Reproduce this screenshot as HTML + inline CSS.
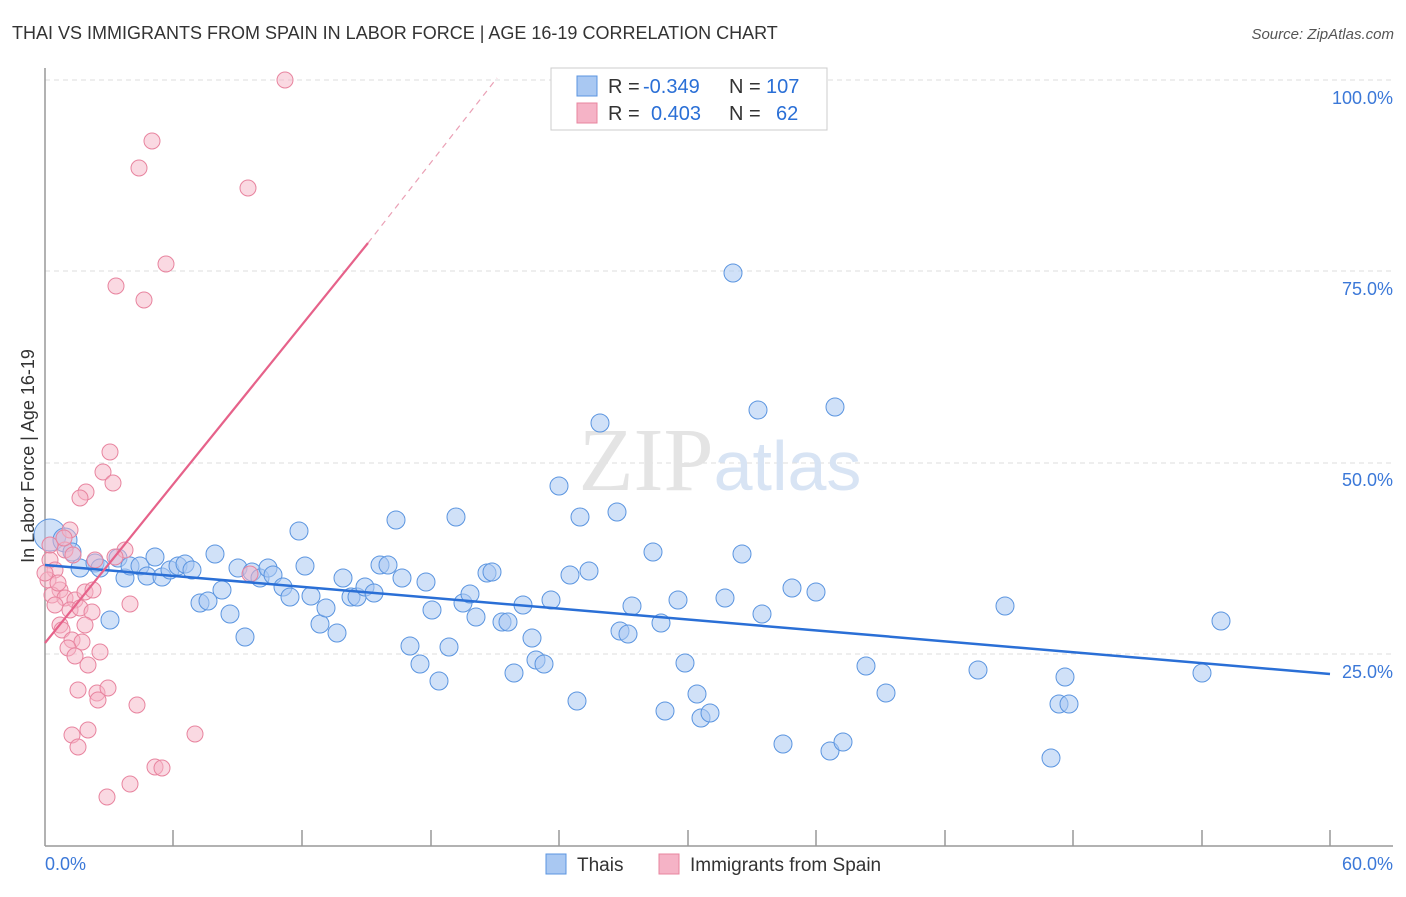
<!DOCTYPE html>
<html><head><meta charset="utf-8"><style>
body{margin:0;background:#fff;font-family:"Liberation Sans",sans-serif;}
</style></head><body>
<svg width="1406" height="892" xmlns="http://www.w3.org/2000/svg" font-family="Liberation Sans, sans-serif">
<text x="12" y="39" font-size="18" fill="#333">THAI VS IMMIGRANTS FROM SPAIN IN LABOR FORCE | AGE 16-19 CORRELATION CHART</text>
<text x="1394" y="39" font-size="15" fill="#555" font-style="italic" text-anchor="end">Source: ZipAtlas.com</text>
<g stroke="#ddd" stroke-dasharray="5,4" stroke-width="1">
<line x1="45" y1="80" x2="1393" y2="80"/><line x1="45" y1="271" x2="1393" y2="271"/>
<line x1="45" y1="463" x2="1393" y2="463"/><line x1="45" y1="654" x2="1393" y2="654"/>
</g>
<line x1="45" y1="68" x2="45" y2="846" stroke="#999" stroke-width="1.5"/>
<line x1="45" y1="846" x2="1393" y2="846" stroke="#999" stroke-width="1.5"/>
<g stroke="#999" stroke-width="1.5">
<line x1="173" y1="830" x2="173" y2="846"/><line x1="302" y1="830" x2="302" y2="846"/><line x1="431" y1="830" x2="431" y2="846"/><line x1="559" y1="830" x2="559" y2="846"/><line x1="688" y1="830" x2="688" y2="846"/><line x1="816" y1="830" x2="816" y2="846"/><line x1="945" y1="830" x2="945" y2="846"/><line x1="1073" y1="830" x2="1073" y2="846"/><line x1="1202" y1="830" x2="1202" y2="846"/><line x1="1330" y1="830" x2="1330" y2="846"/>
</g>
<g font-size="18" fill="#3b78d8" text-anchor="end">
<text x="1393" y="104">100.0%</text><text x="1393" y="295">75.0%</text><text x="1393" y="486">50.0%</text><text x="1393" y="678">25.0%</text>
<text x="1393" y="870">60.0%</text></g>
<text x="45" y="870" font-size="18" fill="#3b78d8">0.0%</text>
<text transform="translate(34,456) rotate(-90)" font-size="18" fill="#333" text-anchor="middle">In Labor Force | Age 16-19</text>
<text x="720" y="490" font-size="90" fill="#e4e4e4" text-anchor="middle" font-family="Liberation Serif, serif">ZIP<tspan fill="#d8e4f4" font-family="Liberation Sans, sans-serif" font-size="70">atlas</tspan></text>
<g fill="#a9c8f2" fill-opacity="0.55" stroke="#5b95e0" stroke-width="1">
<circle cx="50" cy="535" r="16"/><circle cx="65" cy="540" r="12"/>
<g id="b">
<circle cx="72" cy="552" r="9"/><circle cx="80" cy="568" r="9"/><circle cx="95" cy="563" r="9"/><circle cx="100" cy="568" r="9"/><circle cx="110" cy="620" r="9"/><circle cx="118" cy="558" r="9"/><circle cx="125" cy="578" r="9"/><circle cx="130" cy="566" r="9"/><circle cx="140" cy="566" r="9"/><circle cx="147" cy="576" r="9"/><circle cx="155" cy="557" r="9"/><circle cx="162" cy="577" r="9"/><circle cx="170" cy="570" r="9"/><circle cx="178" cy="566" r="9"/><circle cx="185" cy="564" r="9"/><circle cx="192" cy="570" r="9"/><circle cx="200" cy="603" r="9"/><circle cx="208" cy="601" r="9"/><circle cx="215" cy="554" r="9"/><circle cx="222" cy="590" r="9"/><circle cx="230" cy="614" r="9"/><circle cx="238" cy="568" r="9"/><circle cx="245" cy="637" r="9"/><circle cx="252" cy="572" r="9"/><circle cx="260" cy="578" r="9"/><circle cx="268" cy="568" r="9"/><circle cx="273" cy="575" r="9"/><circle cx="283" cy="587" r="9"/><circle cx="290" cy="597" r="9"/><circle cx="299" cy="531" r="9"/><circle cx="305" cy="566" r="9"/><circle cx="311" cy="596" r="9"/><circle cx="320" cy="624" r="9"/><circle cx="326" cy="608" r="9"/><circle cx="337" cy="633" r="9"/><circle cx="343" cy="578" r="9"/><circle cx="351" cy="597" r="9"/><circle cx="357" cy="597" r="9"/><circle cx="365" cy="587" r="9"/><circle cx="374" cy="593" r="9"/><circle cx="380" cy="565" r="9"/><circle cx="388" cy="565" r="9"/><circle cx="396" cy="520" r="9"/><circle cx="402" cy="578" r="9"/><circle cx="410" cy="646" r="9"/><circle cx="420" cy="664" r="9"/><circle cx="426" cy="582" r="9"/><circle cx="432" cy="610" r="9"/><circle cx="439" cy="681" r="9"/><circle cx="449" cy="647" r="9"/><circle cx="456" cy="517" r="9"/><circle cx="463" cy="603" r="9"/><circle cx="470" cy="594" r="9"/><circle cx="476" cy="617" r="9"/><circle cx="487" cy="573" r="9"/><circle cx="492" cy="572" r="9"/><circle cx="502" cy="622" r="9"/><circle cx="508" cy="622" r="9"/><circle cx="514" cy="673" r="9"/><circle cx="523" cy="605" r="9"/><circle cx="532" cy="638" r="9"/><circle cx="536" cy="660" r="9"/><circle cx="544" cy="664" r="9"/><circle cx="551" cy="600" r="9"/><circle cx="559" cy="486" r="9"/><circle cx="570" cy="575" r="9"/><circle cx="577" cy="701" r="9"/><circle cx="580" cy="517" r="9"/><circle cx="589" cy="571" r="9"/><circle cx="600" cy="423" r="9"/><circle cx="617" cy="512" r="9"/><circle cx="620" cy="631" r="9"/><circle cx="628" cy="634" r="9"/><circle cx="632" cy="606" r="9"/><circle cx="653" cy="552" r="9"/><circle cx="661" cy="623" r="9"/><circle cx="665" cy="711" r="9"/><circle cx="678" cy="600" r="9"/><circle cx="685" cy="663" r="9"/><circle cx="697" cy="694" r="9"/><circle cx="701" cy="718" r="9"/><circle cx="710" cy="713" r="9"/><circle cx="725" cy="598" r="9"/><circle cx="733" cy="273" r="9"/><circle cx="742" cy="554" r="9"/><circle cx="758" cy="410" r="9"/><circle cx="762" cy="614" r="9"/><circle cx="783" cy="744" r="9"/><circle cx="792" cy="588" r="9"/><circle cx="816" cy="592" r="9"/><circle cx="830" cy="751" r="9"/><circle cx="835" cy="407" r="9"/><circle cx="843" cy="742" r="9"/><circle cx="866" cy="666" r="9"/><circle cx="886" cy="693" r="9"/><circle cx="978" cy="670" r="9"/><circle cx="1005" cy="606" r="9"/><circle cx="1051" cy="758" r="9"/><circle cx="1059" cy="704" r="9"/><circle cx="1065" cy="677" r="9"/><circle cx="1069" cy="704" r="9"/><circle cx="1202" cy="673" r="9"/><circle cx="1221" cy="621" r="9"/>
</g></g>
<g fill="#f5b3c6" fill-opacity="0.5" stroke="#e8849f" stroke-width="1">
<circle cx="285" cy="80" r="8"/><circle cx="152" cy="141" r="8"/><circle cx="139" cy="168" r="8"/><circle cx="248" cy="188" r="8"/><circle cx="166" cy="264" r="8"/><circle cx="116" cy="286" r="8"/><circle cx="144" cy="300" r="8"/><circle cx="110" cy="452" r="8"/><circle cx="103" cy="472" r="8"/><circle cx="86" cy="492" r="8"/><circle cx="113" cy="483" r="8"/><circle cx="80" cy="498" r="8"/><circle cx="70" cy="530" r="8"/><circle cx="65" cy="550" r="8"/><circle cx="73" cy="555" r="8"/><circle cx="50" cy="560" r="8"/><circle cx="55" cy="570" r="8"/><circle cx="48" cy="580" r="8"/><circle cx="60" cy="590" r="8"/><circle cx="52" cy="595" r="8"/><circle cx="65" cy="598" r="8"/><circle cx="75" cy="600" r="8"/><circle cx="55" cy="605" r="8"/><circle cx="85" cy="592" r="8"/><circle cx="93" cy="590" r="8"/><circle cx="70" cy="610" r="8"/><circle cx="80" cy="608" r="8"/><circle cx="92" cy="612" r="8"/><circle cx="60" cy="625" r="8"/><circle cx="85" cy="625" r="8"/><circle cx="62" cy="630" r="8"/><circle cx="72" cy="640" r="8"/><circle cx="82" cy="642" r="8"/><circle cx="68" cy="648" r="8"/><circle cx="100" cy="652" r="8"/><circle cx="75" cy="656" r="8"/><circle cx="88" cy="665" r="8"/><circle cx="78" cy="690" r="8"/><circle cx="97" cy="693" r="8"/><circle cx="108" cy="688" r="8"/><circle cx="98" cy="700" r="8"/><circle cx="137" cy="705" r="8"/><circle cx="72" cy="735" r="8"/><circle cx="88" cy="730" r="8"/><circle cx="78" cy="747" r="8"/><circle cx="195" cy="734" r="8"/><circle cx="155" cy="767" r="8"/><circle cx="162" cy="768" r="8"/><circle cx="130" cy="784" r="8"/><circle cx="107" cy="797" r="8"/><circle cx="125" cy="550" r="8"/><circle cx="130" cy="604" r="8"/><circle cx="115" cy="557" r="8"/><circle cx="95" cy="560" r="8"/><circle cx="250" cy="574" r="8"/><circle cx="50" cy="545" r="8"/><circle cx="45" cy="573" r="8"/><circle cx="58" cy="583" r="8"/><circle cx="64" cy="538" r="8"/>
</g>
<line x1="45" y1="565" x2="1330" y2="674" stroke="#2a6fd6" stroke-width="2.5"/>
<line x1="45" y1="643" x2="368" y2="243" stroke="#e6628a" stroke-width="2.2"/>
<line x1="368" y1="243" x2="497" y2="78" stroke="#eaa0b5" stroke-width="1.2" stroke-dasharray="6,5"/>
<rect x="551" y="68" width="276" height="62" fill="#fff" stroke="#ccc"/>
<rect x="577" y="76" width="20" height="20" fill="#a9c8f2" stroke="#5b95e0"/>
<rect x="577" y="103" width="20" height="20" fill="#f5b3c6" stroke="#e8849f"/>
<g font-size="20" fill="#333">
<text x="608" y="93">R =</text><text x="729" y="93">N =</text>
<text x="608" y="120">R =</text><text x="729" y="120">N =</text></g>
<g font-size="20" fill="#2a6fd6">
<text x="643" y="93">-0.349</text><text x="766" y="93">107</text>
<text x="651" y="120">0.403</text><text x="776" y="120">62</text></g>
<rect x="546" y="854" width="20" height="20" fill="#a9c8f2" stroke="#5b95e0"/>
<text x="577" y="871" font-size="19" fill="#333">Thais</text>
<rect x="659" y="854" width="20" height="20" fill="#f5b3c6" stroke="#e8849f"/>
<text x="690" y="871" font-size="19" fill="#333">Immigrants from Spain</text>
</svg>
</body></html>
